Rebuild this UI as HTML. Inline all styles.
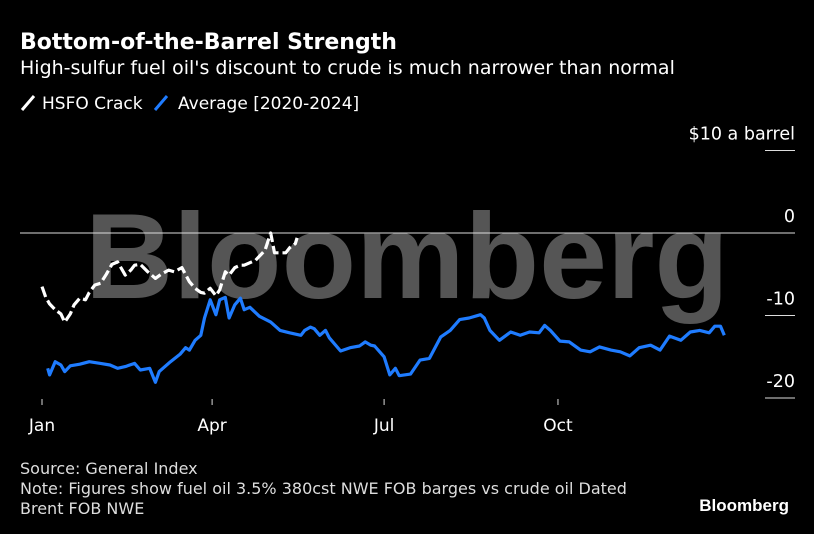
<!DOCTYPE html>
<html><head><meta charset="utf-8">
<style>
body{margin:0;background:#000;width:814px;height:534px;overflow:hidden;font-family:"DejaVu Sans",sans-serif;color:#fff}
</style></head>
<body>
<svg width="814" height="534" style="position:absolute;left:0;top:0" font-family="DejaVu Sans, sans-serif">
<text x="20" y="49" font-size="22" font-weight="bold" fill="#fff">Bottom-of-the-Barrel Strength</text>
<text x="20" y="74" font-size="19" fill="#fff">High-sulfur fuel oil's discount to crude is much narrower than normal</text>
<g>
<line x1="22" y1="110" x2="34" y2="96" stroke="#fff" stroke-width="3"/>
<text x="42" y="109" font-size="17" fill="#fff">HSFO Crack</text>
<line x1="155" y1="110" x2="167" y2="96" stroke="#1f7cff" stroke-width="3"/>
<text x="178" y="109" font-size="17" fill="#fff">Average [2020-2024]</text>
</g>
<text x="407" y="298" font-size="122" font-weight="bold" fill="#555" text-anchor="middle" font-family="Liberation Sans, sans-serif">Bloomberg</text>
<g id="axes"></g>
<g id="series"></g>
<text x="20" y="474" font-size="16" fill="#ddd">Source: General Index</text>
<text x="20" y="494" font-size="16" fill="#ddd">Note: Figures show fuel oil 3.5% 380cst NWE FOB barges vs crude oil Dated</text>
<text x="20" y="514" font-size="16" fill="#ddd">Brent FOB NWE</text>
<text x="789" y="511" font-size="17" font-weight="bold" fill="#fff" text-anchor="end" font-family="Liberation Sans, sans-serif">Bloomberg</text>
</svg>
<script>
const yTicks=[10,0,-10,-20];
const yTickLabels=["$10 a barrel","0","-10","-20"];
const xTickDays=[0,90,181,273];
const xTickLabels=["Jan","Apr","Jul","Oct"];
const avgDays=[3,4,7,10,12,15,20,25,31,36,40,44,49,52,57,60,62,68,73,76,78,81,84,86,89,92,94,97,99,102,105,107,110,115,121,126,131,137,139,142,144,147,150,152,158,163,168,171,174,176,181,184,187,189,195,200,205,211,216,221,226,232,234,237,242,248,253,258,263,266,269,274,279,285,290,295,301,306,311,316,322,327,332,338,343,348,353,356,359,361];
const avgValues=[-16.4,-17.2,-15.6,-16.0,-16.8,-16.1,-15.9,-15.6,-15.8,-16.0,-16.4,-16.2,-15.8,-16.6,-16.4,-18.1,-16.8,-15.6,-14.7,-13.9,-14.2,-13.0,-12.4,-10.3,-8.1,-9.9,-8.1,-7.8,-10.3,-8.7,-7.9,-9.3,-9.0,-10.1,-10.8,-11.8,-12.1,-12.4,-11.8,-11.4,-11.6,-12.4,-11.8,-12.7,-14.3,-13.9,-13.7,-13.2,-13.6,-13.7,-15.0,-17.2,-16.4,-17.3,-17.1,-15.4,-15.2,-12.6,-11.8,-10.5,-10.3,-9.9,-10.3,-11.8,-13.0,-12.0,-12.4,-12.0,-12.1,-11.2,-11.8,-13.1,-13.2,-14.2,-14.4,-13.8,-14.2,-14.4,-14.9,-13.9,-13.6,-14.2,-12.5,-13.0,-12.0,-11.8,-12.1,-11.3,-11.3,-12.4];
const hsfoDays=[0,2,4,7,10,12,15,17,20,23,25,28,31,34,37,40,44,47,49,52,56,60,63,67,70,74,78,81,84,86,89,92,94,97,99,102,105,107,113,118,121,123,129,131,134,135];
const hsfoValues=[-6.5,-7.8,-8.6,-9.3,-9.8,-10.8,-9.8,-8.7,-7.9,-8.1,-7.2,-6.3,-6.1,-5.0,-3.8,-3.5,-5.1,-4.5,-3.9,-3.8,-4.7,-5.5,-5.0,-4.5,-4.7,-4.2,-5.9,-6.7,-7.2,-7.3,-6.7,-7.6,-6.9,-4.7,-5.1,-4.2,-3.9,-3.9,-3.3,-2.1,0,-2.4,-2.4,-1.8,-1.3,-0.6];
const NS="http://www.w3.org/2000/svg";
const xs=d=>42+d*1.89;
const ys=v=>233-v*8.25;
const axes=document.getElementById('axes'),ser=document.getElementById('series');
function mk(tag,attrs,parent){const e=document.createElementNS(NS,tag);for(const k in attrs)e.setAttribute(k,attrs[k]);parent.appendChild(e);return e;}
yTicks.forEach((t,i)=>{
  const y=ys(t);
  const l=mk('line',t===0?{x1:20,x2:795,y1:y,y2:y,stroke:'#ddd','stroke-width':1}:{x1:765,x2:795,y1:y,y2:y,stroke:'#ddd','stroke-width':1},axes);
  
  
  const tx=mk('text',{x:795,y:y-11,'font-size':17.5,fill:'#fff','text-anchor':'end'},axes);
  tx.textContent=yTickLabels[i];
  
  
});
xTickDays.forEach((d,i)=>{
  const x=xs(d);
  const l=mk('line',{x1:x,x2:x,y1:399,y2:405,stroke:'#ddd','stroke-width':1},axes);
  
  
  const tx=mk('text',{x:x,y:431,'font-size':17,fill:'#fff','text-anchor':'middle'},axes);
  tx.textContent=xTickLabels[i];
  
  
});
function line(days,vals,color,dash,name){
  const d=days.map((t,i)=>(i?'L':'M')+xs(t).toFixed(1)+','+ys(vals[i]).toFixed(1)).join('');
  const attrs={d:d,fill:'none',stroke:color,'stroke-width':3.2,'stroke-linejoin':'round'};
  if(dash)attrs['stroke-dasharray']=dash;
  const p=mk('path',attrs,ser);
  
  
}
line(avgDays,avgValues,'#1f7cff',null,'average-line');
line(hsfoDays,hsfoValues,'#fff','11 4','hsfo-line');
</script>
</body></html>
